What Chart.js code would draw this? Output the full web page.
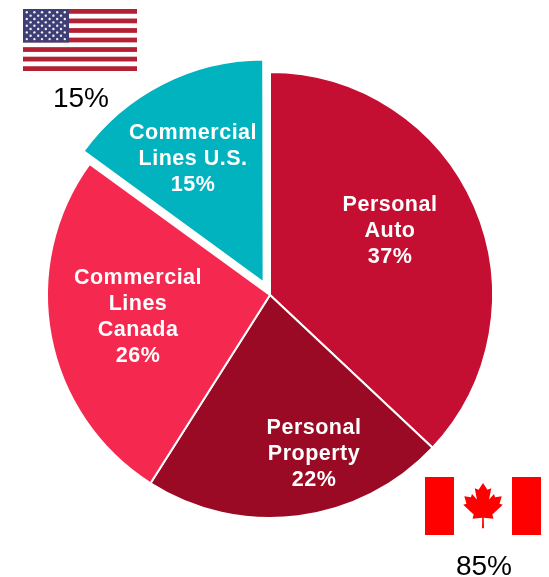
<!DOCTYPE html>
<html>
<head>
<meta charset="utf-8">
<script src="https://cdn.jsdelivr.net/npm/chart.js@4"></script>
<style>
    html, body { margin: 0; background: #fff; }
    #wrap { position: relative; width: 549px; height: 577px; overflow: hidden; }
    canvas { position: absolute; left: 0; top: 0; }
    svg { position: absolute; }
    .share { position: absolute; font: 28px "Liberation Sans", Arial, sans-serif; color: #000; width: 80px; text-align: center; }
</style>
</head>
<body>
<div id="wrap">
    <canvas id="chart_pie" width="549" height="577"></canvas>

    <svg id="flag_us" style="left:23px;top:9px" width="114" height="62" viewBox="0 0 114 62"></svg>
    <div class="share" style="left:41px;top:82px">15%</div>

    <svg id="flag_ca" style="left:425px;top:477px" width="116" height="58" viewBox="0 0 116 58">
        <rect width="116" height="58" fill="#fff"/>
        <rect width="29" height="58" fill="#ff0000"/>
        <rect x="87" width="29" height="58" fill="#ff0000"/>
        <path transform="translate(58 0) scale(1.1 1.07) translate(-58 0)" fill="#ff0000" d="M58 5.5 L62 12 L65.5 10.5 L63.5 21 L68 16 L69 19 L75 18 L73 25 L76 26 L66.5 35 L67.5 39 L58.7 38 L58.9 48 L57.1 48 L57.3 38 L48.5 39 L49.5 35 L40 26 L43 25 L41 18 L47 19 L48 16 L52.5 21 L50.5 10.5 L54 12 Z"/>
    </svg>
    <div class="share" style="left:444px;top:550px">85%</div>
</div>

<script>
const categories = ['Personal Auto', 'Personal Property', 'Commercial Lines Canada', 'Commercial Lines U.S.'];
const shares = [37, 22, 26, 15];
const colors = ['#c50f32', '#9b0a24', '#f5294f', '#00b3bf'];
const sliceOffsets = [0, 0, 0, 56];

// label lines per slice, and where each block is centred
const labelLines = [
    ['Personal', 'Auto', '37%'],
    ['Personal', 'Property', '22%'],
    ['Commercial', 'Lines', 'Canada', '26%'],
    ['Commercial', 'Lines U.S.', '15%']
];
const labelCentres = [[390, 231], [314, 454], [138, 317], [193, 159]];
const lineGap = 25.8;

const sliceLabels = {
    id: 'sliceLabels',
    //the exploded slice grows a bit with its offset, take that back
    afterDatasetsUpdate(chart) {
        const arc = chart.getDatasetMeta(0).data[3];
        arc.outerRadius = 223 - 2.7;
    },
    afterDatasetsDraw(chart) {
        const { ctx } = chart;
        ctx.save();
        ctx.fillStyle = '#fff';
        ctx.font = 'bold 21.5px "Liberation Sans", Arial, sans-serif';
        ctx.letterSpacing = '0.5px';
        ctx.textAlign = 'center';
        ctx.textBaseline = 'middle';
        labelLines.forEach((lines, i) => {
            const top = labelCentres[i][1] - (lines.length - 1) * lineGap / 2;
            lines.forEach((line, j) => {
                ctx.fillText(line, labelCentres[i][0], top + j * lineGap);
            });
        });
        ctx.restore();
    }
};

new Chart(document.querySelector('#chart_pie'), {
    type: 'pie',
    data: {
        labels: categories,
        datasets: [{
            data: shares,
            backgroundColor: colors,
            borderColor: '#fff',
            borderWidth: 2,
            offset: sliceOffsets,
            radius: 223
        }]
    },
    options: {
        responsive: false,
        animation: false,
        layout: { padding: { top: 13, right: 9 } },
        plugins: { legend: { display: false }, tooltip: { enabled: false } }
    },
    plugins: [sliceLabels]
});

//us flag
const us = document.querySelector('#flag_us');
let flag = '<rect width="114" height="62" fill="#fff"/>';
for (let i = 0; i < 13; i += 2) {
    flag += `<rect y="${i * 62 / 13}" width="114" height="${62 / 13}" fill="#b22234"/>`;
}
flag += '<rect width="46" height="33.5" fill="#3f3f78"/>';
for (let row = 0; row < 9; row++) {
    const count = row % 2 ? 5 : 6;
    for (let col = 0; col < count; col++) {
        const cx = (row % 2 ? 7.6 : 3.8) + col * 7.6;
        const cy = 3.3 + row * 3.35;
        flag += `<circle cx="${cx}" cy="${cy}" r="1.2" fill="#f0f0f5"/>`;
    }
}
us.innerHTML = flag;
</script>
</body>
</html>
